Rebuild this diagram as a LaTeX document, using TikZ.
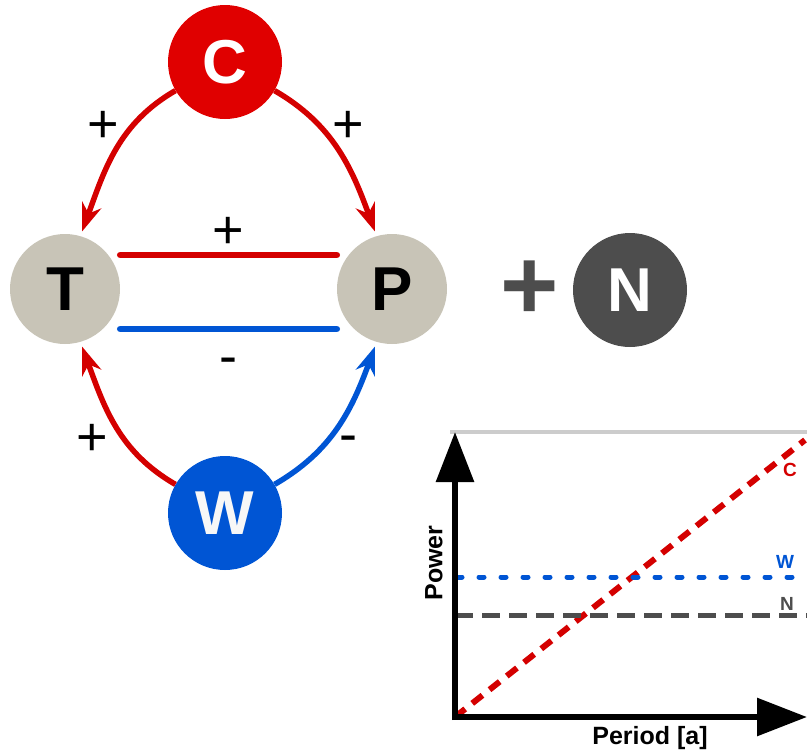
\documentclass[tikz,border=0pt]{standalone}
\usepackage{fontspec}
\setmainfont{Liberation Sans}
\usetikzlibrary{arrows.meta}
\definecolor{ccred}{HTML}{E00000}
\definecolor{arrred}{HTML}{D40000}
\definecolor{ccblue}{HTML}{0055D4}
\definecolor{ccsand}{HTML}{C8C4B7}
\definecolor{ccdark}{HTML}{4D4D4D}
\definecolor{ccgray}{HTML}{CCCCCC}

\begin{document}
\begin{tikzpicture}[x=1pt, y=1pt,
    factor/.style={circle, minimum size=114pt, inner sep=0pt, font=\bfseries\fontsize{62}{62}\selectfont},
    link/.style={line width=5.5pt, -{Stealth[length=28pt, width=20pt, inset=9pt]}},
    bar/.style={line width=6.5pt, line cap=round},
    sign/.style={text=black, font=\fontsize{54}{54}\selectfont},
    axis/.style={line width=6pt, -{Triangle[length=50pt, width=37pt]}},
    tag/.style={font=\bfseries\fontsize{19}{19}\selectfont},
    lbl/.style={font=\bfseries\fontsize{25}{25}\selectfont}]
  \useasboundingbox (0,0) rectangle (807,-756);

  % factors
  \node[factor, fill=ccred, text=white] (C) at (225,-62) {C};
  \node[factor, fill=ccsand, minimum size=110pt] (T) at (65,-289) {T};
  \node[factor, fill=ccsand, minimum size=110pt] (P) at (392,-289) {P};
  \node[factor, fill=ccblue, text=white!97!black] (W) at (225,-513) {W};
  \node[factor, fill=ccdark, text=white] (N) at (630,-290) {N};
  \node[font=\bfseries\fontsize{100}{100}\selectfont, text=ccdark] (plus) at (530,-290) {+};

  % influences
  \draw[link, arrred] (C.210) to[out=210, in=70] ([yshift=5pt]T.72);
  \draw[link, arrred] (C.330) to[out=-30, in=110] ([yshift=5pt]P.108);
  \draw[link, arrred] (W.150) to[out=150, in=-70] ([yshift=-5pt]T.-72);
  \draw[link, ccblue] (W.30) to[out=30, in=-110] ([yshift=-5pt]P.-108);
  \node[sign] (sCT) at (103,-127) {+};
  \node[sign] (sCP) at (348,-127) {+};
  \node[sign] (sWT) at (92,-440) {+};
  \node[sign] (sWP) at (348,-444) {-};

  \draw[bar, arrred] ([yshift=34pt]T.east) -- node[sign, above] (sTP) {+} ([yshift=34pt]P.west);
  \draw[bar, ccblue] ([yshift=-40pt]T.east) -- node[sign, below=22pt] (sPT) {-} ([yshift=-40pt]P.west);

  % power over period
  \coordinate (origin) at (455,-717);
  \coordinate (ytip) at (455,-432);
  \coordinate (xtip) at (807,-717);
  \coordinate (cend) at (805,-440);
  \draw[line width=4pt, ccgray] (450,-432) -- (807,-432);
  \draw[line width=6pt, arrred, dash pattern=on 13pt off 9pt] (origin) -- (cend);
  \draw[line width=5pt, ccblue, line cap=round, dash pattern=on 5pt off 17pt] (457,-577) -- (807,-577);
  \draw[line width=5pt, ccdark, dash pattern=on 18pt off 9pt] (455,-615) -- (807,-615);
  \draw[axis] ([yshift=-3pt]origin) -- (ytip);
  \draw[axis] ([xshift=-3pt]origin) -- (xtip);

  \node[tag, text=arrred] (tC) at (790,-470) {C};
  \node[tag, text=ccblue] (tW) at (785,-562) {W};
  \node[tag, text=ccdark] (tN) at (787,-604) {N};
  \node[lbl, rotate=90] (ylab) at (434,-563) {Power};
  \node[lbl] (xlab) at (650,-738) {Period [a]};
\end{tikzpicture}
\end{document}
